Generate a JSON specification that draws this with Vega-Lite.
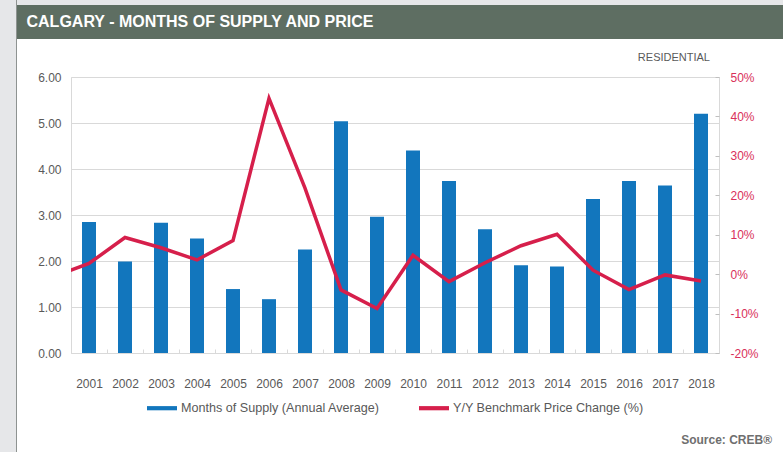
{
  "$schema": "https://vega.github.io/schema/vega-lite/v6.json",
  "background": "white",
  "padding": 0,
  "columns": 3,
  "align": "none",
  "spacing": 0,
  "resolve": {"scale": {"color": "independent"}, "legend": {"color": "independent"}},
  "config": {
    "font": "Liberation Sans",
    "view": {"stroke": null},
    "axis": {"labelFont": "Liberation Sans", "labelFontSize": 12, "labelColor": "#595959"},
    "legend": {"layout": {"bottom": {"anchor": "middle"}}}
  },
  "concat": [
    {
      "width": 16,
      "height": 452,
      "view": {"fill": "#e6e7e9", "stroke": null},
      "data": {"values": []},
      "mark": "rule",
      "encoding": {}
    },
    {
      "width": 1,
      "height": 452,
      "view": {"fill": "#8e9391", "stroke": null},
      "data": {"values": []},
      "mark": "rule",
      "encoding": {}
    },
    {
      "columns": 1,
      "align": "none",
      "spacing": 12,
      "resolve": {"scale": {"color": "independent"}, "legend": {"color": "independent"}},
      "title": {"text": "Source: CREB®", "orient": "bottom", "anchor": "end", "fontSize": 12, "fontWeight": "bold", "color": "#6f6f6f", "offset": 19, "dx": -11, "baseline": "top"},
      "concat": [
        {
          "columns": 1,
          "align": "none",
          "spacing": 0,
          "concat": [
            {
              "width": 766,
              "height": 5,
              "view": {"fill": "#e6e7e9", "stroke": null},
              "data": {"values": []},
              "mark": "rule",
              "encoding": {}
            },
            {
              "columns": 2,
              "align": "none",
              "spacing": 0,
              "concat": [
                {
                  "width": 366,
                  "height": 34,
                  "view": {"fill": "#5e6e62", "stroke": null},
                  "data": {"values": [{"t": "CALGARY - MONTHS OF SUPPLY AND PRICE"}]},
                  "mark": {"type": "text", "color": "white", "fontSize": 16, "fontWeight": "bold", "baseline": "middle", "align": "center"},
                  "encoding": {"text": {"field": "t", "type": "nominal"}}
                },
                {
                  "width": 400,
                  "height": 34,
                  "view": {"fill": "#5e6e62", "stroke": null},
                  "data": {"values": []},
                  "mark": "rule",
                  "encoding": {}
                }
              ]
            }
          ]
        },
        {
          "columns": 2,
          "align": "none",
          "spacing": 0,
          "resolve": {"scale": {"color": "independent"}, "legend": {"color": "independent"}},
          "concat": [
            {
              "width": 1,
              "height": 1,
              "view": {"fill": "white", "stroke": null},
              "data": {"values": []},
              "mark": "rule",
              "encoding": {}
            },
            {
              "width": 648,
              "height": 276,
              "view": {"stroke": "#d9d9d9", "fill": "white"},
              "title": {"text": "RESIDENTIAL", "anchor": "end", "frame": "group", "fontSize": 11, "fontWeight": "normal", "color": "#595959", "offset": 6, "dy": 9, "dx": -9, "baseline": "bottom"},
              "data": {"values": [
                {"year": 2000, "supply": null, "change": -0.7},
                {"year": 2001, "supply": 2.85, "change": 2.7},
                {"year": 2002, "supply": 1.99, "change": 9.3},
                {"year": 2003, "supply": 2.83, "change": 6.7},
                {"year": 2004, "supply": 2.49, "change": 3.6},
                {"year": 2005, "supply": 1.39, "change": 8.5},
                {"year": 2006, "supply": 1.17, "change": 44.6},
                {"year": 2007, "supply": 2.25, "change": 21.8},
                {"year": 2008, "supply": 5.04, "change": -4.0},
                {"year": 2009, "supply": 2.96, "change": -8.7},
                {"year": 2010, "supply": 4.40, "change": 4.8},
                {"year": 2011, "supply": 3.74, "change": -1.9},
                {"year": 2012, "supply": 2.69, "change": 2.9},
                {"year": 2013, "supply": 1.91, "change": 7.2},
                {"year": 2014, "supply": 1.88, "change": 10.1},
                {"year": 2015, "supply": 3.35, "change": 1.0},
                {"year": 2016, "supply": 3.74, "change": -3.9},
                {"year": 2017, "supply": 3.64, "change": -0.2},
                {"year": 2018, "supply": 5.20, "change": -1.75}
              ]},
              "encoding": {
                "x": {
                  "field": "year",
                  "type": "quantitative",
                  "scale": {"domain": [2000.5, 2018.5], "nice": false, "zero": false, "padding": 0},
                  "axis": {
                    "title": null,
                    "values": [2000.5, 2001, 2001.5, 2002, 2002.5, 2003, 2003.5, 2004, 2004.5, 2005, 2005.5, 2006, 2006.5, 2007, 2007.5, 2008, 2008.5, 2009, 2009.5, 2010, 2010.5, 2011, 2011.5, 2012, 2012.5, 2013, 2013.5, 2014, 2014.5, 2015, 2015.5, 2016, 2016.5, 2017, 2017.5, 2018, 2018.5],
                    "format": ".1f",
                    "labelExpr": "datum.value % 1 === 0 ? format(datum.value, 'd') : ''",
                    "labelOverlap": false,
                    "labelFlush": false,
                    "grid": false,
                    "domain": false,
                    "tickSize": -4,
                    "tickColor": "#d9d9d9",
                    "tickOpacity": {"condition": {"test": "datum.value % 1 === 0", "value": 0}, "value": 1},
                    "labelPadding": 29
                  }
                }
              },
              "layer": [
                {
                  "mark": {"type": "bar", "size": 14, "clip": true},
                  "encoding": {
                    "y": {
                      "field": "supply",
                      "type": "quantitative",
                      "scale": {"domain": [0, 6], "nice": false},
                      "axis": {"orient": "left", "title": null, "values": [0, 1, 2, 3, 4, 5, 6], "format": ".2f", "grid": true, "gridColor": "#d9d9d9", "ticks": false, "domain": false, "labelPadding": 10, "minExtent": 52}
                    },
                    "color": {
                      "datum": "Months of Supply (Annual Average)",
                      "scale": {"domain": ["Months of Supply (Annual Average)", "Y/Y Benchmark Price Change (%)"], "range": ["#1276bd", "#d61f4b"]},
                      "legend": {"orient": "bottom", "direction": "horizontal", "title": null, "symbolType": "M-1,-0.14H1V0.14H-1Z", "symbolSize": 900, "symbolStrokeWidth": 0, "labelFontSize": 12.6, "labelColor": "#595959", "labelFont": "Liberation Sans", "columnPadding": 39, "offset": 4, "labelLimit": 400}
                    }
                  }
                },
                {
                  "mark": {"type": "line", "clip": true, "strokeWidth": 3.5},
                  "encoding": {
                    "y": {
                      "field": "change",
                      "type": "quantitative",
                      "scale": {"domain": [-20, 50], "nice": false, "zero": false},
                      "axis": {"orient": "right", "title": null, "values": [-20, -10, 0, 10, 20, 30, 40, 50], "labelExpr": "datum.value + '%'", "grid": false, "domain": false, "tickSize": -4, "tickColor": "#bfbfbf", "labelColor": "#d9305a", "labelPadding": 15}
                    },
                    "color": {"datum": "Y/Y Benchmark Price Change (%)"}
                  }
                }
              ],
              "resolve": {"scale": {"y": "independent"}}
            }
          ]
        }
      ]
    }
  ]
}
